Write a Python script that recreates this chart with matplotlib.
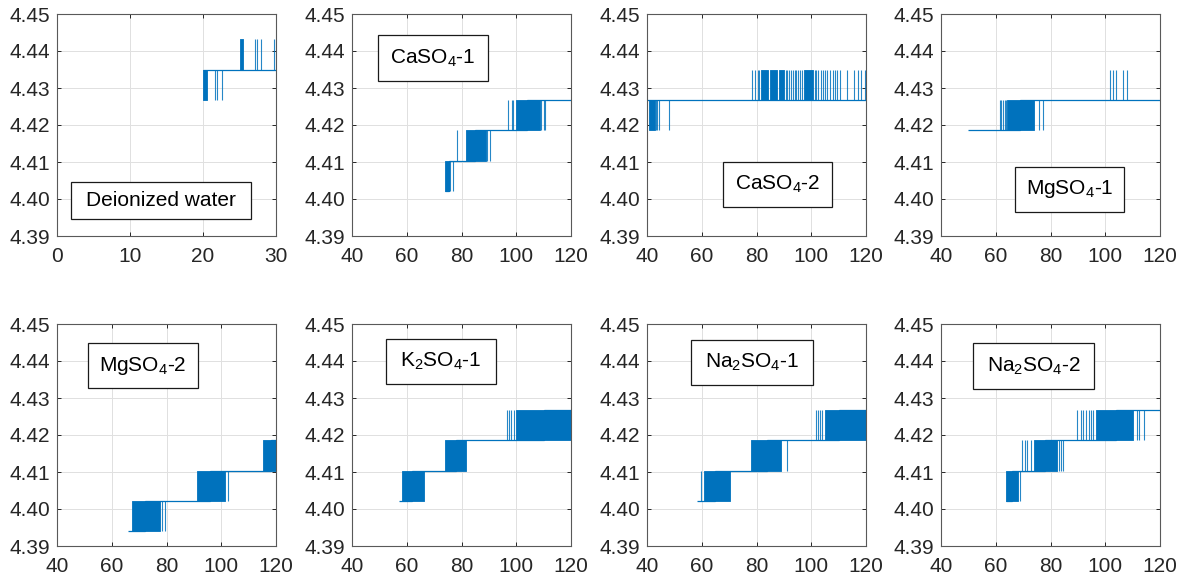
import matplotlib
matplotlib.use("Agg")
import matplotlib.pyplot as plt
from matplotlib.patches import Rectangle

plt.rcParams['font.family'] = ['Liberation Sans', 'DejaVu Sans']
plt.rcParams['mathtext.default'] = 'regular'

BLUE = '#0072BD'
INK = '#262626'

# quantised levels of the probe reading
L0, L1, L2, L3, L4, L5, L6 = 4.3940, 4.4022, 4.4104, 4.4186, 4.4268, 4.4350, 4.4432

titles = ['Deionized water', 'CaSO$_4$-1', 'CaSO$_4$-2', 'MgSO$_4$-1',
          'MgSO$_4$-2', 'K$_2$SO$_4$-1', 'Na$_2$SO$_4$-1', 'Na$_2$SO$_4$-2']
xlims = [(0, 30)] + [(40, 120)] * 7
xticks = [[0, 10, 20, 30]] + [[40, 60, 80, 100, 120]] * 7
yticks = [4.39, 4.40, 4.41, 4.42, 4.43, 4.44, 4.45]

# base level of each record: stair edges and the level held between them
dw_edges, dw_vals = [20.0, 30.0], [L5]
ca1_edges, ca1_vals = [73.8, 75.5, 85.0, 104.0, 120.0], [L1, L2, L3, L4]
ca2_edges, ca2_vals = [40.0, 120.0], [L4]
mg1_edges, mg1_vals = [50.0, 69.0, 120.0], [L3, L4]
mg2_edges, mg2_vals = [66.1, 72.0, 96.0, 118.0, 120.0], [L0, L1, L2, L3]
k1_edges, k1_vals = [57.2, 62.0, 78.0, 110.0, 120.0], [L1, L2, L3, L4]
na1_edges, na1_vals = [58.1, 65.0, 84.0, 110.0, 120.0], [L1, L2, L3, L4]
na2_edges, na2_vals = [63.9, 66.0, 78.0, 104.0, 120.0], [L1, L2, L3, L4]

# stretches where the reading flips so fast it prints solid: (start, end, low, high)
dw_blocks = [(20.0, 20.6, L4, L5), (25.05, 25.5, L5, L6)]
ca1_blocks = [(73.8, 75.3, L1, L2), (81.6, 88.8, L2, L3), (99.8, 108.5, L3, L4)]
ca2_blocks = [(40.8, 43.0, L3, L4), (81.5, 84.3, L4, L5), (84.8, 87.6, L4, L5),
              (88.2, 90.0, L4, L5), (97.3, 100.5, L4, L5)]
mg1_blocks = [(64.1, 73.9, L3, L4)]
mg2_blocks = [(67.5, 77.6, L0, L1), (91.3, 101.4, L1, L2), (115.3, 120.0, L2, L3)]
k1_blocks = [(58.3, 66.3, L1, L2), (73.8, 81.8, L2, L3), (99.9, 120.0, L3, L4)]
na1_blocks = [(60.8, 70.3, L1, L2), (77.9, 88.8, L2, L3), (105.0, 120.0, L3, L4)]
na2_blocks = [(63.9, 68.0, L1, L2), (73.9, 82.4, L2, L3), (96.5, 110.3, L3, L4)]

# isolated flips: (low, high, times)
dw_spikes = [(L4, L5, [21.65, 21.9, 22.56]), (L5, L6, [27.1, 27.36, 28.0, 29.7, 29.95])]
ca1_spikes = [(L1, L2, [75.8, 77.0]), (L2, L3, [78.2, 89.4, 90.4]),
              (L3, L4, [97.0, 98.3, 98.8, 109.2, 110.0, 110.5])]
ca2_spikes = [(L3, L4, [43.3, 43.8, 44.5, 48.2]),
              (L4, L5, [78.4, 79.6, 80.6, 81.0, 90.6, 91.3, 92.0, 92.5, 93.2, 94.0,
                        94.6, 95.2, 96.0, 96.7, 101.2, 101.9, 102.6, 103.5, 104.2,
                        105.0, 105.8, 106.7, 108.0, 108.6, 109.3, 110.5, 113.0,
                        115.6, 117.0, 118.2, 119.8])]
mg1_spikes = [(L3, L4, [61.4, 61.9, 62.5, 63.2, 63.8, 75.7, 77.1]),
              (L4, L5, [101.8, 102.9, 104.1, 106.5, 108.1])]
mg2_spikes = [(L0, L1, [78.2, 79.4]), (L1, L2, [102.6])]
k1_spikes = [(L3, L4, [96.7, 97.4, 98.2, 99.0])]
na1_spikes = [(L1, L2, [59.8]), (L2, L3, [91.3]), (L3, L4, [101.7, 102.5, 103.3, 103.9])]
na2_spikes = [(L1, L2, [69.0]), (L2, L3, [69.6, 70.6, 71.4, 72.7, 83.1, 84.0, 84.6]),
              (L3, L4, [89.5, 91.0, 92.0, 92.8, 94.1, 94.7, 95.4, 111.6, 112.4, 114.0])]

records = [
    (dw_edges, dw_vals, dw_blocks, dw_spikes),
    (ca1_edges, ca1_vals, ca1_blocks, ca1_spikes),
    (ca2_edges, ca2_vals, ca2_blocks, ca2_spikes),
    (mg1_edges, mg1_vals, mg1_blocks, mg1_spikes),
    (mg2_edges, mg2_vals, mg2_blocks, mg2_spikes),
    (k1_edges, k1_vals, k1_blocks, k1_spikes),
    (na1_edges, na1_vals, na1_blocks, na1_spikes),
    (na2_edges, na2_vals, na2_blocks, na2_spikes),
]

# label box of each panel in axes fractions: (left, bottom, right, top)
boxes = [(0.064, 0.077, 0.886, 0.243), (0.119, 0.698, 0.621, 0.905),
         (0.347, 0.131, 0.845, 0.333), (0.338, 0.108, 0.836, 0.311),
         (0.142, 0.712, 0.644, 0.914), (0.155, 0.730, 0.658, 0.932),
         (0.201, 0.725, 0.758, 0.928), (0.146, 0.707, 0.699, 0.914)]

fig = plt.figure(figsize=(11.84, 5.77), dpi=100)
lefts = [57, 352, 647, 941]
W, H = 219 / 1184, 222 / 577
bottoms = [1 - 236 / 577, 1 - 546 / 577]

for i, (edges, vals, blocks, spikes) in enumerate(records):
    ax = fig.add_axes([lefts[i % 4] / 1184, bottoms[i // 4], W, H])
    ax.stairs(vals, edges, baseline=None, color=BLUE, lw=0.9)
    for x0, x1, lo, hi in blocks:
        ax.fill_between([x0, x1], lo, hi, color=BLUE, lw=0.6, edgecolor=BLUE)
    for lo, hi, xs in spikes:
        ax.vlines(xs, lo, hi, color=BLUE, lw=0.8, alpha=0.85)

    ax.set_xlim(*xlims[i])
    ax.set_ylim(4.39, 4.45)
    ax.set_xticks(xticks[i])
    ax.set_yticks(yticks)
    ax.set_yticklabels(['%.2f' % v for v in yticks])
    ax.grid(True, color='#e0e0e0', lw=0.7)
    ax.set_axisbelow(True)
    ax.tick_params(direction='in', length=3, width=0.7, colors=INK,
                   labelsize=15, top=True, right=True)
    ax.tick_params(axis='x', pad=8)
    ax.tick_params(axis='y', pad=5)
    for s in ax.spines.values():
        s.set_color('#595959')
        s.set_linewidth(0.8)

    bl, bb, br, bt = boxes[i]
    ax.add_patch(Rectangle((bl, bb), br - bl, bt - bb, transform=ax.transAxes,
                           facecolor='white', edgecolor='#1a1a1a', lw=0.9, zorder=5))
    ax.text((bl + br) / 2, (bb + bt) / 2, titles[i], transform=ax.transAxes,
            ha='center', va='center', fontsize=15, color='black', zorder=6)

fig.savefig('out.png', dpi=100)
